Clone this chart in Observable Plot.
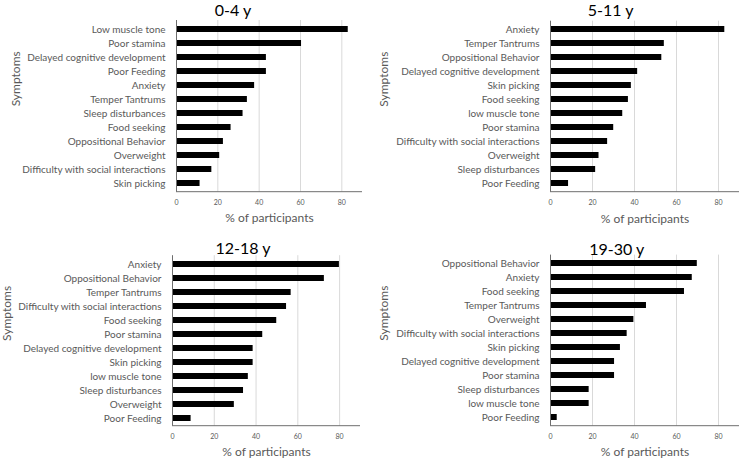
<!DOCTYPE html>
<html>
<head>
<meta charset="utf-8">
<script src="https://cdn.jsdelivr.net/npm/d3@7"></script>
<script src="https://cdn.jsdelivr.net/npm/@observablehq/plot@0.6"></script>
<style>
  html, body { margin: 0; padding: 0; background: #fff; }
  #wrap { position: relative; width: 740px; height: 460px; overflow: hidden; font-family: Lato, "Open Sans", sans-serif; }
  .panel { position: absolute; width: 370px; height: 230px; }
  .title { position: absolute; transform: translate(-50%, -50%); font-size: 16px; line-height: 1.1; color: #000; white-space: nowrap; }
</style>
</head>
<body>
<div id="wrap"></div>
<script>
// ---- data ----
const titles = ["0-4 y", "5-11 y", "12-18 y", "19-30 y"];

const cats04 = ["Low muscle tone", "Poor stamina", "Delayed cognitive development", "Poor Feeding", "Anxiety", "Temper Tantrums", "Sleep disturbances", "Food seeking", "Oppositional Behavior", "Overweight", "Difficulty with social interactions", "Skin picking"];
const vals04 = [83.1, 60.5, 43.5, 43.5, 37.8, 34.3, 32.2, 26.4, 22.7, 20.9, 17.1, 11.4];

const cats511 = ["Anxiety", "Temper Tantrums", "Oppositional Behavior", "Delayed cognitive development", "Skin picking", "Food seeking", "low muscle tone", "Poor stamina", "Difficulty with social interactions", "Overweight", "Sleep disturbances", "Poor Feeding"];
const vals511 = [83.0, 54.2, 53.0, 41.5, 38.5, 37.1, 34.4, 30.1, 27.2, 23.1, 21.5, 8.6];

const cats1218 = ["Anxiety", "Oppositional Behavior", "Temper Tantrums", "Difficulty with social interactions", "Food seeking", "Poor stamina", "Delayed cognitive development", "Skin picking", "low muscle tone", "Sleep disturbances", "Overweight", "Poor Feeding"];
const vals1218 = [79.9, 72.7, 56.8, 54.6, 49.9, 43.2, 38.6, 38.6, 36.3, 34.0, 29.6, 8.9];

const cats1930 = ["Oppositional Behavior", "Anxiety", "Food seeking", "Temper Tantrums", "Overweight", "Difficulty with social interactions", "Skin picking", "Delayed cognitive development", "Poor stamina", "Sleep disturbances", "low muscle tone", "Poor Feeding"];
const vals1930 = [69.9, 67.5, 63.8, 45.7, 39.7, 36.5, 33.3, 30.5, 30.5, 18.4, 18.4, 3.2];

const xTicks = [0, 20, 40, 60, 80];
const xLabel = "% of participants";
const yLabel = "Symptoms";

// ---- layout ----
const panels = [
  {cats: cats04,   vals: vals04,   left: 0,   top: 0,   mt: 20,   mb: 38.3, ml: 176, mr: 8,  tx: 233,   ty: 9.5,  ylx: 15.5, xly: 25.6},
  {cats: cats511,  vals: vals511,  left: 370, top: 0,   mt: 20.7, mb: 38.3, ml: 180, mr: 1,  tx: 240.7, ty: 9.8,  ylx: 13.5, xly: 27.3},
  {cats: cats1218, vals: vals1218, left: 0,   top: 230, mt: 25.2, mb: 34.3, ml: 172, mr: 10, tx: 243,   ty: 18.3, ylx: 7,    xly: 26},
  {cats: cats1930, vals: vals1930, left: 370, top: 230, mt: 24.6, mb: 34.3, ml: 180, mr: 1,  tx: 246.7, ty: 19,   ylx: 13.5, xly: 26}
];

const axisColor = "#6e6e6e";
const gridColor = "#d9d9d9";
const textColor = "#595959";

const wrap = document.getElementById("wrap");

panels.forEach((p, i) => {
  const data = p.cats.map((c, j) => ({c, v: p.vals[j]}));
  const bottomLine = (index, scales, values, dims) => {
    const y = dims.height - dims.marginBottom;
    const l = document.createElementNS("http://www.w3.org/2000/svg", "line");
    l.setAttribute("x1", dims.marginLeft);
    l.setAttribute("x2", dims.width - dims.marginRight);
    l.setAttribute("y1", y);
    l.setAttribute("y2", y);
    l.setAttribute("stroke", axisColor);
    l.setAttribute("stroke-width", 1);
    return l;
  };
  const chart = Plot.plot({
    width: 370,
    height: 230,
    marginTop: p.mt,
    marginBottom: p.mb,
    marginLeft: p.ml,
    marginRight: p.mr,
    style: {fontFamily: "Lato, 'Open Sans', sans-serif", color: textColor, background: "white", overflow: "visible"},
    x: {domain: [0, 90], ticks: xTicks, label: null},
    y: {domain: p.cats, paddingInner: 0.58, paddingOuter: 0.29, label: null},
    marks: [
      Plot.ruleX(xTicks.filter(d => d > 0), {stroke: gridColor, strokeWidth: 1}),
      Plot.barX(data, {x: "v", y: "c", fill: "black"}),
      Plot.ruleX([0], {stroke: axisColor, strokeWidth: 1}),
      bottomLine,
      Plot.axisX({ticks: xTicks, tickSize: 0, tickPadding: 7.5, fontSize: 7, fill: textColor, label: null}),
      Plot.axisY({tickSize: 0, tickPadding: 11, fontSize: 10, fill: textColor, label: null}),
      Plot.text([xLabel], {frameAnchor: "bottom", dy: p.xly, lineAnchor: "middle", fontSize: 12, fill: textColor}),
      Plot.text([yLabel], {frameAnchor: "left", dx: p.ylx - p.ml, rotate: -90, lineAnchor: "middle", fontSize: 12, fill: textColor})
    ]
  });
  const div = document.createElement("div");
  div.className = "panel";
  div.style.left = p.left + "px";
  div.style.top = p.top + "px";
  div.appendChild(chart);
  const t = document.createElement("div");
  t.className = "title";
  t.style.left = p.tx + "px";
  t.style.top = p.ty + "px";
  t.textContent = titles[i];
  div.appendChild(t);
  wrap.appendChild(div);
});
</script>
</body>
</html>
